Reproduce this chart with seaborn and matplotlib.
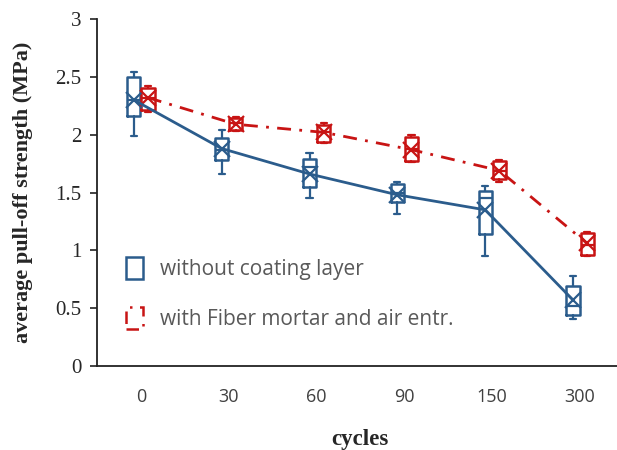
import numpy as np
import matplotlib
matplotlib.use("Agg")
import matplotlib.pyplot as plt
import matplotlib.patches as mpatches
import seaborn as sns

# categorias (ciclos)
cycles = ["0", "30", "60", "90", "150", "300"]

# sem camada de revestimento
blue_whislo = [1.99, 1.66, 1.45, 1.31, 0.95, 0.41]
blue_q1     = [2.16, 1.78, 1.55, 1.42, 1.14, 0.44]
blue_med    = [2.30, 1.87, 1.72, 1.50, 1.45, 0.52]
blue_q3     = [2.50, 1.97, 1.79, 1.57, 1.51, 0.69]
blue_whishi = [2.54, 2.04, 1.84, 1.59, 1.56, 0.78]
blue_mean   = [2.30, 1.88, 1.66, 1.48, 1.35, 0.57]

# com argamassa de fibra e incorporador de ar
red_whislo = [2.20, 2.03, 1.93, 1.76, 1.59, 0.95]
red_q1     = [2.21, 2.04, 1.94, 1.77, 1.62, 0.96]
red_med    = [2.32, 2.10, 2.02, 1.88, 1.69, 1.05]
red_q3     = [2.40, 2.14, 2.08, 1.98, 1.77, 1.15]
red_whishi = [2.42, 2.15, 2.10, 2.00, 1.78, 1.16]
red_mean   = [2.32, 2.09, 2.02, 1.87, 1.69, 1.06]

BLUE = "#2B5C8C"
RED = "#C81414"

sns.set_style("ticks")
plt.rcParams["font.family"] = ["Liberation Serif", "DejaVu Serif"]

fig = plt.figure(figsize=(6.17, 4.5), dpi=100)
ax = fig.add_axes([97 / 617, 84 / 450, 527 / 617, 347 / 450])


def make_stats(lo, q1, med, q3, hi, mean):
    return [dict(whislo=a, q1=b, med=c, q3=d, whishi=e, mean=f, fliers=[])
            for a, b, c, d, e, f in zip(lo, q1, med, q3, hi, mean)]


x = np.arange(len(cycles))
off = 0.08
w = 0.15

for stats, pos, col in [
    (make_stats(blue_whislo, blue_q1, blue_med, blue_q3, blue_whishi, blue_mean), x - off, BLUE),
    (make_stats(red_whislo, red_q1, red_med, red_q3, red_whishi, red_mean), x + off, RED),
]:
    ax.bxp(stats, positions=pos, widths=w, showmeans=True, showfliers=False,
           capwidths=0.07, manage_ticks=False,
           boxprops=dict(color=col, linewidth=1.8),
           whiskerprops=dict(color=col, linewidth=1.6),
           capprops=dict(color=col, linewidth=1.6),
           medianprops=dict(color=col, linewidth=1.6),
           meanprops=dict(marker="x", markeredgecolor=col, markersize=11,
                          markeredgewidth=1.6))

sns.lineplot(x=x - off, y=blue_mean, ax=ax, color=BLUE, linewidth=2, zorder=3)
sns.lineplot(x=x + off, y=red_mean, ax=ax, color=RED, linewidth=2,
             linestyle=(0, (5, 3, 1, 3)), zorder=3)

ax.set_xlim(-0.5, 5.5)
ax.set_ylim(0, 3)
ax.set_yticks([0, 0.5, 1, 1.5, 2, 2.5, 3])
ax.set_yticklabels(["0", "0.5", "1", "1.5", "2", "2.5", "3"], fontsize=15)
ax.set_xticks(x)
ax.set_xticklabels(cycles, fontsize=13, family="Open Sans", color="#404040")
ax.tick_params(axis="x", length=0, pad=16)
ax.tick_params(axis="y", length=5, width=1.2, direction="out", pad=6, color="#222222")
for s in ["top", "right"]:
    ax.spines[s].set_visible(False)
for s in ["left", "bottom"]:
    ax.spines[s].set_color("#222222")
    ax.spines[s].set_linewidth(1.3)

fig.text(23 / 617, 1 - 192 / 450, "average pull-off strength (MPa)", rotation=90,
         ha="center", va="center", fontsize=16, fontweight="bold")
fig.text(360 / 617, 1 - 440 / 450, "cycles", ha="center", va="center",
         fontsize=16.5, fontweight="bold")

handles = [
    mpatches.Patch(facecolor="none", edgecolor=BLUE, linewidth=1.8,
                   label="without coating layer"),
    mpatches.Patch(facecolor="none", edgecolor=RED, linewidth=1.8,
                   linestyle=(0, (5, 3, 1, 3)),
                   label="with Fiber mortar and air entr."),
]
leg = ax.legend(handles=handles, loc="lower left", bbox_to_anchor=(0.02, 0.05),
                frameon=False, handlelength=0.8, handleheight=1.2,
                labelspacing=1.3, handletextpad=0.8,
                prop=dict(family="Open Sans", size=15))
for t in leg.get_texts():
    t.set_color("#595959")

fig.savefig("out.png", dpi=100)
